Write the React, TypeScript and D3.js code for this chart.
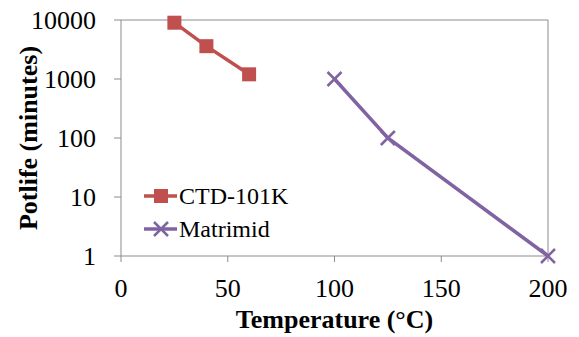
import React from "react";
import * as d3 from "d3";

const seriesNames = ["CTD-101K", "Matrimid"];
const ctdTemp = [25, 40, 60];
const ctdPotlife = [9000, 3600, 1200];
const matTemp = [100, 125, 200];
const matPotlife = [1000, 100, 1];
const xTicks = [0, 50, 100, 150, 200];
const yTicks = [1, 10, 100, 1000, 10000];
const colors = ["#C0504D", "#8064A2"];

const W = 579, H = 337;
const margin = { left: 121, right: 31, top: 20, bottom: 81 };
const font = "Liberation Serif";

export default function App() {
  const x = d3.scaleLinear().domain([0, 200]).range([margin.left, W - margin.right]);
  const y = d3.scaleLog().domain([1, 10000]).range([H - margin.bottom, margin.top]);
  const line = d3.line<[number, number]>().x((d) => x(d[0])).y((d) => y(d[1]));

  const ctd: [number, number][] = ctdTemp.map((t, i) => [t, ctdPotlife[i]]);
  const mat: [number, number][] = matTemp.map((t, i) => [t, matPotlife[i]]);

  const x0 = x(0), x1 = x(200), yb = y(1), yt = y(10000);
  const axisCol = "#8c8c8c";

  const square = (cx: number, cy: number, c: string, k: string) => (
    <rect key={k} x={cx - 7} y={cy - 7} width={14} height={14} fill={c} />
  );
  const cross = (cx: number, cy: number, c: string, k: string) => (
    <path key={k} d={`M${cx - 7},${cy - 7}L${cx + 7},${cy + 7}M${cx - 7},${cy + 7}L${cx + 7},${cy - 7}`}
      stroke={c} strokeWidth={2.5} fill="none" />
  );

  return (
    <svg width={W} height={H} style={{ position: "absolute", left: 0, top: 0, background: "#fff" }} fontFamily={font}>
      {/* plot frame */}
      <path d={`M${x0},${yt}H${x1}V${yb}`} stroke={axisCol} strokeWidth={1} fill="none" />
      <line x1={x0} x2={x1} y1={yb} y2={yb} stroke={axisCol} />
      <line x1={x0} x2={x0} y1={yt} y2={yb} stroke={axisCol} />
      {yTicks.map((t) => (
        <g key={"y" + t}>
          <line x1={x0 - 7} x2={x0} y1={y(t)} y2={y(t)} stroke={axisCol} />
          <text fontFamily={font} x={96} y={y(t) + 9} textAnchor="end" fontSize={26} fill="#000">{t}</text>
        </g>
      ))}
      {xTicks.map((t) => (
        <g key={"x" + t}>
          <line x1={x(t)} x2={x(t)} y1={yb} y2={yb + 6} stroke={axisCol} />
          <text fontFamily={font} x={x(t)} y={297} textAnchor="middle" fontSize={26} fill="#000">{t}</text>
        </g>
      ))}
      <text fontFamily={font} x={(x0 + x1) / 2} y={328} textAnchor="middle" fontSize={26} fontWeight="bold">Temperature (°C)</text>
      <text fontFamily={font} transform={`translate(37,${(yt + yb) / 2}) rotate(-90)`} textAnchor="middle" fontSize={26} fontWeight="bold">Potlife (minutes)</text>

      <path d={line(ctd) || ""} stroke={colors[0]} strokeWidth={3.5} fill="none" />
      {ctd.map((d, i) => square(x(d[0]), y(d[1]), colors[0], "c" + i))}
      <path d={line(mat) || ""} stroke={colors[1]} strokeWidth={3.5} fill="none" />
      {mat.map((d, i) => cross(x(d[0]), y(d[1]), colors[1], "m" + i))}

      {/* legend */}
      {seriesNames.map((n, i) => {
        const ly = 196 + i * 33;
        return (
          <g key={n}>
            <line x1={144} x2={177} y1={ly} y2={ly} stroke={colors[i]} strokeWidth={3.5} />
            {i === 0 ? square(161, ly, colors[0], "lg0") : cross(161, ly, colors[1], "lg1")}
            <text fontFamily={font} x={179} y={ly + 8} fontSize={24}>{n}</text>
          </g>
        );
      })}
    </svg>
  );
}
